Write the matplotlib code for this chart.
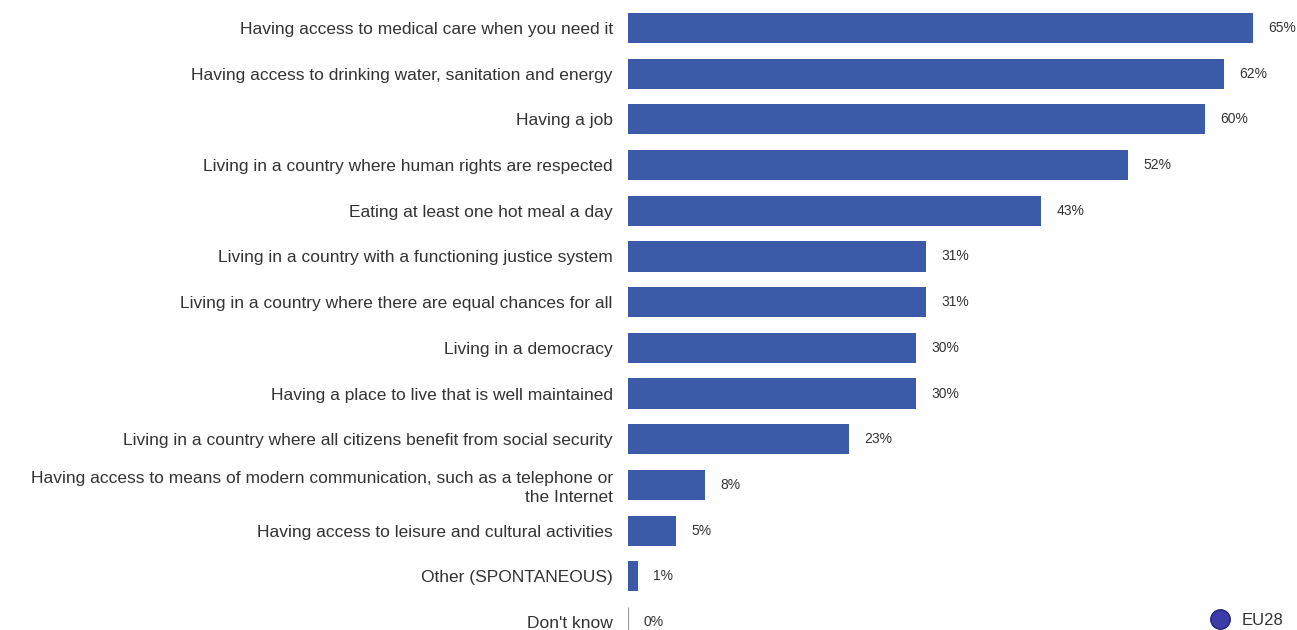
import matplotlib.pyplot as plt
from matplotlib.lines import Line2D

plt.rcParams['font.family'] = ['Liberation Sans', 'DejaVu Sans']

# survey items and share of respondents (%)
items = [
    "Having access to medical care when you need it",
    "Having access to drinking water, sanitation and energy",
    "Having a job",
    "Living in a country where human rights are respected",
    "Eating at least one hot meal a day",
    "Living in a country with a functioning justice system",
    "Living in a country where there are equal chances for all",
    "Living in a democracy",
    "Having a place to live that is well maintained",
    "Living in a country where all citizens benefit from social security",
    "Having access to means of modern communication, such as a telephone or\nthe Internet",
    "Having access to leisure and cultural activities",
    "Other (SPONTANEOUS)",
    "Don't know",
]
values = [65, 62, 60, 52, 43, 31, 31, 30, 30, 23, 8, 5, 1, 0]

fig = plt.figure(figsize=(12.97, 6.30), dpi=100)
ax = fig.add_axes([628 / 1297, 0, 1 - 628 / 1297, 1])

pos = list(range(len(items)))
ax.barh(pos, values, height=0.66, color='#3b5ba9', edgecolor='#9a9a9a',
        linewidth=[0.8 if v == 0 else 0 for v in values])

for y, v in zip(pos, values):
    ax.annotate(f"{v}%", (v, y), xytext=(11, 0), textcoords="offset points",
                ha="left", va="center", fontsize=10, color="#333333")

ax.set_yticks(pos)
ax.set_yticklabels(items, fontsize=12.5, color="#333333", linespacing=1.3)
ax.tick_params(axis='y', length=0, pad=11)
ax.set_xticks([])
ax.set_xlim(0, 69.6)
ax.set_ylim(13.175, -0.613)
for s in ax.spines.values():
    s.set_visible(False)

# legend marker
marker = Line2D([0], [0], marker='o', linestyle='none', markersize=14,
                markerfacecolor='#3c3ca8', markeredgecolor='#22227a')
leg = fig.legend([marker], ['EU28'], loc='lower left',
                 bbox_to_anchor=(1188 / 1297, -0.02), frameon=False,
                 fontsize=12, handletextpad=0.3, labelcolor='#333333')

fig.savefig("out.png", dpi=100)
